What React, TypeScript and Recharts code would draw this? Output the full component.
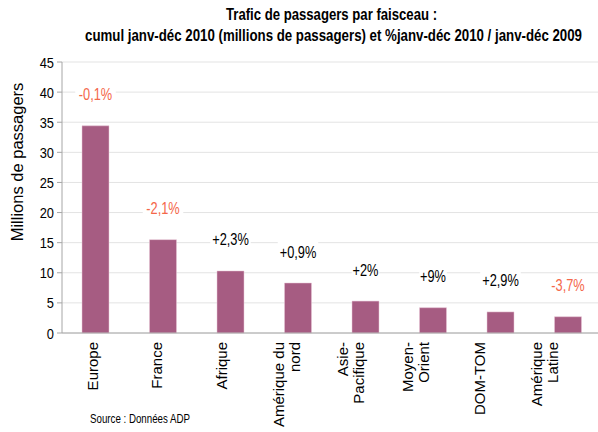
import React from 'react';
import { BarChart, Bar, XAxis, YAxis, CartesianGrid, LabelList } from 'recharts';

const categories = ['Europe', 'France', 'Afrique', 'Amérique du\nnord', 'Asie-\nPacifique', 'Moyen-\nOrient', 'DOM-TOM', 'Amérique\nLatine'];
const passengers = [34.4, 15.5, 10.3, 8.3, 5.3, 4.2, 3.5, 2.7];
const changes = ['-0,1%', '-2,1%', '+2,3%', '+0,9%', '+2%', '+9%', '+2,9%', '-3,7%'];
const yTicks = [0, 5, 10, 15, 20, 25, 30, 35, 40, 45];
const titleLine1 = 'Trafic de passagers par faisceau :';
const titleLine2 = 'cumul janv-déc 2010 (millions de passagers) et %janv-déc 2010 / janv-déc 2009';
const sourceText = 'Source : Données ADP';

const data = categories.map((c, i) => ({ name: c, value: passengers[i], pct: changes[i] }));

const SANS = '"Liberation Sans", Arial, sans-serif';
const BAR = '#A65C82';
const RED = '#F4674A';
const NARROW_SCALE = 0.83;

const XTick = (props: any) => {
  const { x, y, payload, index } = props;
  const lines: string[] = String(payload.value).split('\n');
  const lh = 16;
  const cx = x - 3 - index * 2.9;
  return (
    <g transform={`translate(${cx},${y + 1})`}>
      <text transform="rotate(-90)" textAnchor="end" fontFamily={SANS} fontSize={15} fill="#000">
        {lines.map((l, i) => (
          <tspan key={i} x={0} y={(i - (lines.length - 1) / 2) * lh + 5}>{l}</tspan>
        ))}
      </text>
    </g>
  );
};

const YTick = (props: any) => {
  const { x, y, payload } = props;
  return (
    <g transform={`translate(${x - 1},${y + 5.5}) scale(${NARROW_SCALE},1)`}>
      <text x={0} y={0} textAnchor="end" fontFamily={SANS} fontSize={15.5} fill="#000">
        {payload.value}
      </text>
    </g>
  );
};

const PctLabel = (props: any) => {
  const { x, y, width, value } = props;
  const cx = x + width / 2;
  const cy = y - 31;
  const neg = String(value).startsWith('-');
  const w = String(value).length * 6.5 + 8;
  return (
    <g>
      <rect x={cx - w / 2} y={cy - 10} width={w} height={20} fill="#fff" />
      <g transform={`translate(${cx},${cy + 5.5}) scale(0.8,1)`}>
        <text x={0} y={0} textAnchor="middle" fontFamily={SANS} fontSize={16} fill={neg ? RED : '#000'}>
          {value}
        </text>
      </g>
    </g>
  );
};

export default function App() {
  return (
    <div style={{ position: 'absolute', left: 0, top: 0, width: 598, height: 432, overflow: 'hidden', background: '#fff' }}>
      <BarChart width={606} height={432} data={data} margin={{ top: 62, right: 4, bottom: 0, left: 0 }}>
        <CartesianGrid vertical={false} stroke="#E3E3E3" />
        <XAxis
          dataKey="name"
          height={99}
          interval={0}
          tick={<XTick />}
          tickLine={false}
          axisLine={{ stroke: '#A6A6A6' }}
        />
        <YAxis
          width={62}
          domain={[0, 45]}
          ticks={yTicks}
          interval={0}
          tick={<YTick />}
          tickSize={5}
          tickLine={{ stroke: '#A6A6A6' }}
          axisLine={{ stroke: '#A6A6A6' }}
          label={{
            content: () => (
              <text x={23} y={162} transform="rotate(-90 23 162)" textAnchor="middle" fontFamily={SANS} fontSize={16.5} fill="#000">
                Millions de passagers
              </text>
            ),
          }}
        />
        <Bar dataKey="value" fill={BAR} stroke="#E8C6D6" strokeWidth={0.5} isAnimationActive={false} barSize={27}>
          <LabelList dataKey="pct" content={<PctLabel />} />
        </Bar>
      </BarChart>
      <svg width={598} height={432} style={{ position: 'absolute', left: 0, top: 0, pointerEvents: 'none' }}>
        <text x={226} y={20} textLength={211} lengthAdjust="spacingAndGlyphs" fontFamily={SANS} fontWeight="bold" fontSize={16} fill="#000">
          {titleLine1}
        </text>
        <text x={85} y={41} textLength={497} lengthAdjust="spacingAndGlyphs" fontFamily={SANS} fontWeight="bold" fontSize={16} fill="#000">
          {titleLine2}
        </text>
        <text x={90} y={423} textLength={100} lengthAdjust="spacingAndGlyphs" fontFamily={SANS} fontSize={13.5} fill="#000">
          {sourceText}
        </text>
      </svg>
    </div>
  );
}
